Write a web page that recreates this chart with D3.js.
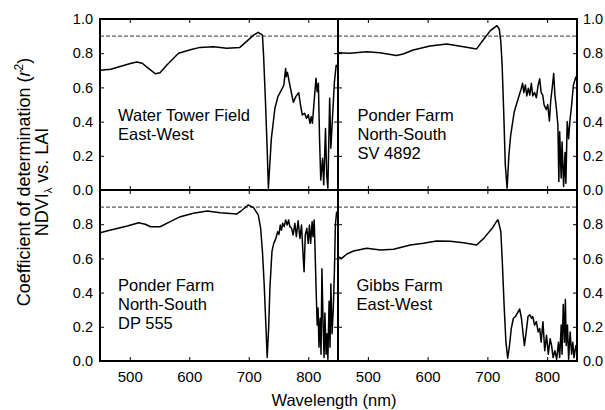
<!DOCTYPE html>
<html><head><meta charset="utf-8">
<script src="https://cdn.jsdelivr.net/npm/d3@7"></script>
<style>
html,body{margin:0;padding:0;background:#fff;}
text{font-family:"Liberation Sans",Arial,sans-serif;fill:#000;}
</style></head>
<body>
<svg id="chart" width="605" height="410"></svg>
<script>
// ---------- DATA ----------
const xTicks = [500, 600, 700, 800];
const yTicks = [0, 0.2, 0.4, 0.6, 0.8, 1.0];
const refLine = 0.9;

const wlWaterTower = [450,468,501,512,521,532,543,551,562,582,602,618,641,663,685,696,708,716,723,725,728,731,733,738,744,749,755,759,762,763,765,769,775,779,784,787,790,794,797,800,803,805,807,809,813,815,817,819,821,824,826,829,831,833,836,838,841,844,847,850];
const r2WaterTower = [0.70,0.706,0.74,0.749,0.741,0.71,0.68,0.686,0.73,0.80,0.82,0.834,0.838,0.829,0.834,0.868,0.906,0.922,0.906,0.78,0.526,0.234,0.01,0.302,0.478,0.546,0.585,0.614,0.711,0.663,0.688,0.614,0.513,0.546,0.569,0.497,0.439,0.448,0.419,0.44,0.39,0.429,0.39,0.478,0.653,0.575,0.624,0.30,0.058,0.185,0.03,0.36,0.088,0.01,0.536,0.244,0.44,0.633,0.73,0.72];

const wlSV4892 = [450,470,498,520,548,559,576,604,632,660,682,693,705,716,720,722.5,724.7,727.5,730,733,736,739,745,750,756,759,761,763.6,766,768.6,771,773.6,776,779,782,785,787.6,790,792.6,795,798.6,801,803.8,806,808.7,811,813,815.7,818,819.6,821,823.5,825,827.6,830,831.4,833.6,836,838,841,844,848,850];
const r2SV4892 = [0.803,0.80,0.809,0.803,0.787,0.795,0.819,0.842,0.854,0.838,0.825,0.877,0.932,0.961,0.94,0.867,0.73,0.439,0.146,0.01,0.205,0.32,0.458,0.516,0.585,0.624,0.57,0.614,0.55,0.595,0.555,0.624,0.55,0.57,0.54,0.614,0.65,0.57,0.555,0.497,0.47,0.50,0.403,0.52,0.604,0.682,0.555,0.47,0.38,0.05,0.34,0.07,0.28,0.02,0.22,0.04,0.40,0.30,0.40,0.497,0.614,0.66,0.64];

const wlDP555 = [450,468,496,515,526,535,551,568,585,607,630,652,680,688,699,708,716,720,723,726,729,731,733.4,735.6,739,742,745.6,748.5,750.7,753,755,757,759.6,762,764.6,767,769,772,774.6,777.5,780,783,786,788.7,791,793,795,797.6,800,802,804,806.5,808,810,811.5,813,815,816.5,818,820,821.5,823,825,826.6,828,830,831.6,833,835,836.6,838,840,842,844,845.6,847.6,850];
const r2DP555 = [0.75,0.766,0.79,0.809,0.80,0.785,0.785,0.815,0.844,0.864,0.877,0.867,0.86,0.88,0.912,0.897,0.854,0.776,0.64,0.444,0.19,0.02,0.19,0.43,0.64,0.688,0.717,0.756,0.74,0.795,0.765,0.805,0.786,0.825,0.795,0.825,0.786,0.776,0.737,0.805,0.727,0.82,0.717,0.795,0.64,0.522,0.737,0.776,0.688,0.795,0.688,0.815,0.727,0.825,0.64,0.444,0.21,0.31,0.08,0.25,0.04,0.54,0.21,0.02,0.28,0.04,0.16,0.01,0.35,0.08,0.45,0.16,0.30,0.53,0.795,0.87,0.85];

const wlGibbs = [450,456,465,476,498,521,543,571,593,615,638,660,682,694,708,717,718,722.5,725,728,731,734,737,740,743.6,747,750,754,757,760,762,765,768,771,774,776,779,782,785,787.6,790,793,796,799,802,805,807.5,810,813,816,819,821,823.6,825,827,829,830.5,832,834,836,838.5,841,843,845,848,850];
const r2Gibbs = [0.61,0.60,0.626,0.643,0.659,0.649,0.653,0.678,0.688,0.702,0.70,0.692,0.678,0.717,0.776,0.825,0.825,0.756,0.58,0.327,0.113,0.016,0.09,0.19,0.25,0.26,0.279,0.304,0.25,0.152,0.09,0.17,0.26,0.27,0.25,0.26,0.21,0.23,0.17,0.19,0.11,0.23,0.06,0.15,0.04,0.13,0.09,0.02,0.06,0.01,0.11,0.02,0.21,0.04,0.33,0.11,0.36,0.09,0.21,0.01,0.17,0.04,0.11,0.02,0.09,0.05];

const panelLabels = [
  ["Water Tower Field", "East-West"],
  ["Ponder Farm", "North-South", "SV 4892"],
  ["Ponder Farm", "North-South", "DP 555"],
  ["Gibbs Farm", "East-West"]
];

// ---------- LAYOUT ----------
const svg = d3.select("#chart");
const L = 100, M = 338, R = 577, T = 19, MID = 190, B = 361;

const xLeft = d3.scaleLinear().domain([450, 850]).range([L, M]);
const xRight = d3.scaleLinear().domain([450, 850]).range([M, R]);
const yTop = d3.scaleLinear().domain([0, 1]).range([MID, T]);
const yBot = d3.scaleLinear().domain([0, 1]).range([B, MID]);

const panels = [
  {x: xLeft, y: yTop, wl: wlWaterTower, r2: r2WaterTower, lab: panelLabels[0], lx: 118, ly: 120.5},
  {x: xRight, y: yTop, wl: wlSV4892, r2: r2SV4892, lab: panelLabels[1], lx: 357.5, ly: 120.5},
  {x: xLeft, y: yBot, wl: wlDP555, r2: r2DP555, lab: panelLabels[2], lx: 118, ly: 290.5},
  {x: xRight, y: yBot, wl: wlGibbs, r2: r2Gibbs, lab: panelLabels[3], lx: 356.5, ly: 290.5}
];

const defs = svg.append("defs");

panels.forEach((p, i) => {
  const [x0, x1] = p.x.range();
  const [y0, y1] = p.y.range(); // y0 bottom, y1 top
  const g = svg.append("g");
  defs.append("clipPath").attr("id", "clip" + i)
    .append("rect").attr("x", x0).attr("y", y1).attr("width", x1 - x0).attr("height", y0 - y1);

  // dashed reference line
  g.append("line")
    .attr("x1", x0).attr("x2", x1)
    .attr("y1", p.y(refLine)).attr("y2", p.y(refLine))
    .attr("stroke", "#333").attr("stroke-width", 1)
    .attr("stroke-dasharray", "4,2");

  // curve
  const pts = p.wl.map((w, k) => [w, p.r2[k]]);
  g.append("path")
    .datum(pts)
    .attr("clip-path", "url(#clip" + i + ")")
    .attr("fill", "none").attr("stroke", "#000").attr("stroke-width", 1.5)
    .attr("stroke-linejoin", "round")
    .attr("d", d3.line().x(d => p.x(d[0])).y(d => p.y(d[1])));

  // inward ticks
  const tk = 4;
  const ax = [
    d3.axisBottom(p.x).tickValues(xTicks).tickSize(-tk).tickFormat(""),
    d3.axisTop(p.x).tickValues(xTicks).tickSize(-tk).tickFormat("")
  ];
  g.append("g").attr("transform", `translate(0,${y0})`).call(ax[0]);
  g.append("g").attr("transform", `translate(0,${y1})`).call(ax[1]);
  const yTk = [0.2, 0.4, 0.6, 0.8];
  g.append("g").attr("transform", `translate(${x0},0)`)
    .call(d3.axisLeft(p.y).tickValues(yTk).tickSize(-tk).tickFormat(""));
  g.append("g").attr("transform", `translate(${x1},0)`)
    .call(d3.axisRight(p.y).tickValues(yTk).tickSize(-tk).tickFormat(""));
  g.selectAll(".domain").remove();
  g.selectAll(".tick line").attr("stroke", "#000").attr("stroke-width", 1);

  // label
  const t = g.append("text").attr("font-size", 16.5);
  p.lab.forEach((s, k) => {
    t.append("tspan").attr("x", p.lx).attr("y", p.ly + k * 19).text(s);
  });
});

// frame and dividers
const frame = svg.append("g").attr("fill", "none").attr("stroke", "#000").attr("stroke-width", 2);
frame.append("rect").attr("x", L).attr("y", T).attr("width", R - L).attr("height", B - T);
frame.append("line").attr("x1", M).attr("x2", M).attr("y1", T).attr("y2", B);
frame.append("line").attr("x1", L).attr("x2", R).attr("y1", MID).attr("y2", MID);

// tick labels
const fmt = d3.format(".1f");
const tickFont = 14.5;
[[yTop, yTicks], [yBot, yTicks.filter(v => v < 1)]].forEach(([ys, vals]) => {
  const axL = svg.append("g").attr("transform", `translate(${L},0)`)
    .call(d3.axisLeft(ys).tickValues(vals).tickSize(0).tickPadding(7).tickFormat(fmt));
  const axR = svg.append("g").attr("transform", `translate(${R},0)`)
    .call(d3.axisRight(ys).tickValues(vals).tickSize(0).tickPadding(6).tickFormat(fmt));
  [axL, axR].forEach(a => {
    a.select(".domain").remove();
    a.selectAll("text").attr("font-size", tickFont).attr("font-family", "Liberation Sans, Arial, sans-serif").attr("fill", "#000");
  });
});
[xLeft, xRight].forEach(xs => {
  const a = svg.append("g").attr("transform", `translate(0,${B})`)
    .call(d3.axisBottom(xs).tickValues(xTicks).tickSize(0).tickPadding(10).tickFormat(d3.format("d")));
  a.select(".domain").remove();
  a.selectAll("text").attr("font-size", 15).attr("font-family", "Liberation Sans, Arial, sans-serif").attr("fill", "#000");
});

// axis titles
svg.append("text").attr("x", 334).attr("y", 406).attr("text-anchor", "middle")
  .attr("font-size", 16.5).text("Wavelength (nm)");

const yt1 = svg.append("text").attr("transform", "translate(30,182) rotate(-90)")
  .attr("text-anchor", "middle").attr("font-size", 18);
yt1.append("tspan").text("Coefficient of determination (");
yt1.append("tspan").attr("font-style", "italic").text("r");
yt1.append("tspan").attr("font-size", 12).attr("dy", -7).text("2");
yt1.append("tspan").attr("dy", 7).text(")");

const yt2 = svg.append("text").attr("transform", "translate(48,182) rotate(-90)")
  .attr("text-anchor", "middle").attr("font-size", 18);
yt2.append("tspan").text("NDVI");
yt2.append("tspan").attr("font-size", 11).attr("dy", 4).text("λ");
yt2.append("tspan").attr("dy", -4).text(" vs. LAI");
</script>
</body></html>
